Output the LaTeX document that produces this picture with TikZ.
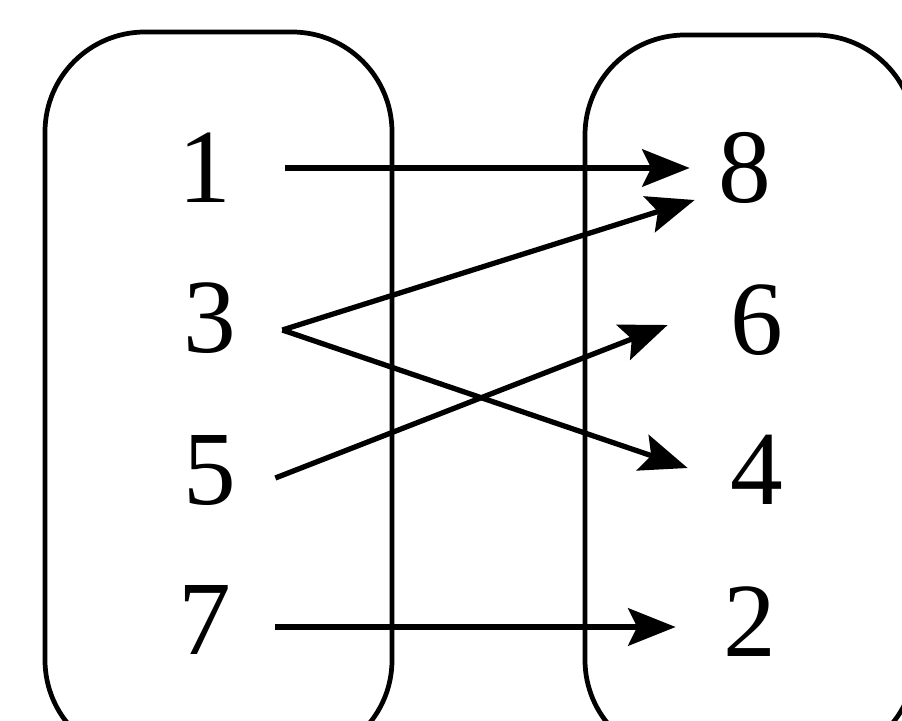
\documentclass[tikz,border=0pt]{standalone}
\usepackage{fontspec}
\setmainfont{Liberation Serif}
\usetikzlibrary{arrows.meta,calc}
\begin{document}
\begin{tikzpicture}[x=0.02cm,y=-0.02cm,
  setbox/.style={draw=black,line width=2.7pt,rounded corners=2cm},
  digit/.style={inner sep=0pt,outer sep=0pt,font=\fontsize{60}{60}\selectfont},
  arr/.style={line width=3pt,-{Stealth[length=0.95cm,width=0.75cm,inset=0.18cm]}}]
\useasboundingbox (0,0) rectangle (902,720);
\fill[white] (0,0) rectangle (902,720);
\draw[setbox] (45,32) rectangle (392,760);
\draw[setbox] (585,35) rectangle (915,760);
\node[digit] (l1) at (205,168) {1};
\node[digit] (l3) at (210,318) {3};
\node[digit] (l5) at (210,470) {5};
\node[digit] (l7) at (205,620) {7};
\node[digit] (r8) at (745,168) {8};
\node[digit] (r6) at (757,320) {6};
\node[digit] (r4) at (757,470) {4};
\node[digit] (r2) at (750,622) {2};
\draw[arr] ($(l1.east)+(54,0)$) -- ($(r8.west)+(-29,0)$);
\draw[arr] ($(l3.east)+(46,12)$) -- ($(r8.west)+(-24,32)$);
\draw[arr] ($(l3.east)+(46,12)$) -- ($(r4.west)+(-43,-2)$);
\draw[arr] ($(l5.east)+(39,8)$) -- ($(r6.west)+(-63,5)$);
\draw[arr] ($(l7.east)+(44,7)$) -- ($(r2.west)+(-48,5)$);
\end{tikzpicture}
\end{document}
